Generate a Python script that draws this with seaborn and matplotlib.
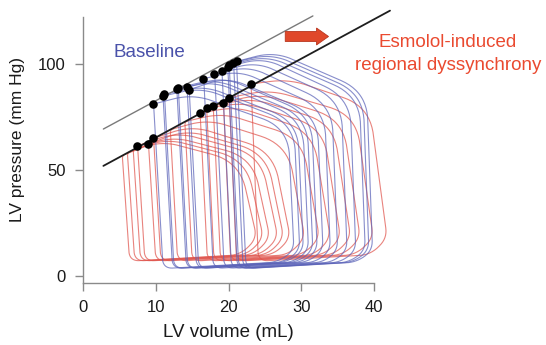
import numpy as np
import pandas as pd
import matplotlib
matplotlib.use("Agg")
import matplotlib.pyplot as plt
from matplotlib.patches import FancyArrow
import seaborn as sns

# ---- Baseline pressure-volume loops (one entry per beat) ----
base_es_vol = [9.7, 11.0, 11.2, 12.9, 13.1, 14.3, 14.6, 16.6, 18.1, 19.1, 19.9, 20.1, 20.7, 21.1]
base_es_pres = [81.2, 85.0, 85.8, 88.2, 88.9, 89.1, 87.9, 93.2, 95.4, 97.0, 98.9, 99.7, 100.8, 101.3]
base_ed_vol = [29.0, 29.8, 30.3, 31.0, 31.6, 32.2, 33.0, 34.0, 35.0, 36.3, 37.5, 38.8, 39.3, 39.8]
base_corner_pres = [70, 72, 73, 74, 75, 76, 76, 79, 81, 83, 84, 85, 86, 87]
base_peak_pres = [86, 89, 90, 92, 93, 94, 94, 97, 99, 101, 103, 104, 105, 106]
base_min_pres = 3.5
base_ed_pres = 12.0

# ---- Esmolol-induced dyssynchrony loops ----
esm_es_vol = [5.4, 6.1, 6.9, 7.5, 9.0, 9.7, 12.0, 14.0, 16.1, 17.0, 17.9, 19.3, 20.1, 23.1]
esm_es_pres = [56.9, 58.2, 59.6, 61.5, 62.4, 65.0, 69.1, 72.9, 76.9, 79.2, 80.3, 81.9, 84.2, 90.7]
esm_ed_vol = [23.9, 24.8, 25.7, 26.8, 27.6, 28.5, 30.5, 32.5, 34.0, 35.4, 36.8, 38.1, 39.9, 41.8]
esm_corner_pres = [54, 55, 56, 57, 58, 59, 62, 65, 68, 70, 72, 74, 76, 80]
esm_peak_pres = [64, 65, 66, 68, 69, 71, 74, 77, 80, 82, 84, 86, 88, 93]
esm_min_pres = 7.0
esm_ed_pres = 18.0

# ---- End-systolic points marked on each ESPVR ----
base_dot_vol = [9.67, 10.96, 11.18, 12.89, 13.11, 14.26, 14.62, 16.55, 18.06, 19.08, 19.90, 20.12, 20.67, 21.14]
base_dot_pres = [81.2, 85.0, 85.8, 88.2, 88.9, 89.1, 87.9, 93.2, 95.4, 97.0, 98.9, 99.7, 100.8, 101.3]
esm_dot_vol = [7.47, 8.98, 9.67, 16.09, 17.02, 17.92, 19.30, 20.12, 23.07]
esm_dot_pres = [61.5, 62.4, 65.0, 76.9, 79.2, 80.3, 81.9, 84.2, 90.7]

# ---- ESPVR lines (end points) ----
base_espvr_vol = [2.8, 31.6]
base_espvr_pres = [69.4, 122.8]
esm_espvr_vol = [2.8, 42.2]
esm_espvr_pres = [52.0, 125.3]

# screen scale (px per mL, px per mm Hg) so corner radii are even on screen
SX, SY = 7.27, 2.117


def rounded_polygon(xs, ys, radii, n_arc=24, n_edge=20):
    """Closed polygon whose corners are replaced by quadratic Bezier arcs."""
    pts = np.column_stack([np.asarray(xs) * SX, np.asarray(ys) * SY])
    n = len(pts)
    ends = []
    for i in range(n):
        a, b, c = pts[i - 1], pts[i], pts[(i + 1) % n]
        ab, bc = a - b, c - b
        lab, lbc = np.hypot(*ab), np.hypot(*bc)
        r = min(radii[i], 0.5 * lab, 0.5 * lbc)
        ends.append((b + ab * r / lab, b, b + bc * r / lbc))
    out = []
    for i in range(n):
        p0, ctrl, p2 = ends[i]
        t = np.linspace(0, 1, n_arc)[:, None]
        out.append((1 - t) ** 2 * p0 + 2 * (1 - t) * t * ctrl + t ** 2 * p2)
        nxt = ends[(i + 1) % n][0]
        s = np.linspace(0, 1, n_edge)[1:-1, None]
        out.append(p2 + (nxt - p2) * s)
    out = np.vstack(out + [out[0][:1]])
    return out[:, 0] / SX, out[:, 1] / SY


def pv_loop(esv, esp, edv, corner, pk, pmin, edp, slant, drift):
    """ES point -> relaxation -> filling -> contraction -> ejection back to ES."""
    width = edv - esv
    xs = [esv, esv + drift, edv - 0.12 * width, edv, edv - slant, esv + 0.28 * width]
    ys = [esp, pmin, pmin + 3.0, edp, corner, pk]
    radii = [3, 10, 40, 10, 28, 60]
    return rounded_polygon(xs, ys, radii)


rows = []
groups = [
    ("Esmolol", esm_es_vol, esm_es_pres, esm_ed_vol, esm_corner_pres, esm_peak_pres,
     esm_min_pres, esm_ed_pres, 2.4, 1.0),
    ("Baseline", base_es_vol, base_es_pres, base_ed_vol, base_corner_pres, base_peak_pres,
     base_min_pres, base_ed_pres, 0.8, 1.3),
]
for name, esv_l, esp_l, edv_l, cor_l, pk_l, pmin, edp, slant, drift in groups:
    for i, (esv, esp, edv, cor, pk) in enumerate(zip(esv_l, esp_l, edv_l, cor_l, pk_l)):
        v, p = pv_loop(esv, esp, edv, cor, pk, pmin, edp, slant, drift)
        rows.append(pd.DataFrame({"group": name, "loop": f"{name}{i}",
                                  "volume": v, "pressure": p}))
df = pd.concat(rows, ignore_index=True)

sns.set_theme(style="ticks")
plt.rcParams["font.family"] = ["Liberation Sans", "DejaVu Sans"]

fig = plt.figure(figsize=(5.46, 3.45), dpi=100)
ax = fig.add_axes([83 / 546, 62 / 345, 291 / 546, 266 / 345])

sns.lineplot(data=df, x="volume", y="pressure", hue="group", units="loop",
             estimator=None, sort=False, legend=False, ax=ax,
             palette={"Esmolol": "#e0544c", "Baseline": "#5a62b8"},
             hue_order=["Esmolol", "Baseline"], lw=0.8, alpha=0.72)
for ln in ax.lines:
    ln.set_clip_on(False)

ax.plot(base_espvr_vol, base_espvr_pres, color="#7a7a7a", lw=1.0, clip_on=False, zorder=4)
ax.plot(esm_espvr_vol, esm_espvr_pres, color="#1e1e1e", lw=1.3, clip_on=False, zorder=4)

sns.scatterplot(x=base_dot_vol, y=base_dot_pres, color="black", s=38, linewidth=0,
                zorder=5, ax=ax, clip_on=False)
sns.scatterplot(x=esm_dot_vol, y=esm_dot_pres, color="black", s=38, linewidth=0,
                zorder=5, ax=ax, clip_on=False)

ax.set_xlim(0, 40)
ax.set_ylim(-3.3, 122.3)
ax.set_xticks([0, 10, 20, 30, 40])
ax.set_yticks([0, 50, 100])
sns.despine(ax=ax)
for sp in ("left", "bottom"):
    ax.spines[sp].set_color("#8a8a8a")
    ax.spines[sp].set_linewidth(1.0)
ax.tick_params(axis="both", colors="#8a8a8a", length=6, width=1.0, pad=6.5,
               labelsize=12, labelcolor="#1a1a1a")

ax.set_xlabel("LV volume (mL)", fontsize=13.5, color="#1a1a1a")
ax.set_ylabel("LV pressure (mm Hg)", fontsize=12.5, color="#1a1a1a")
ax.xaxis.set_label_coords(0.498, -0.155)
ax.yaxis.set_label_coords(-0.198, 0.54)

ax.text(4.13, 103.6, "Baseline", color="#4a52aa", fontsize=13.5, ha="left", va="baseline")
ax.text(50.1, 108.2, "Esmolol-induced", color="#ea4a30", fontsize=13.5,
        ha="center", va="baseline", clip_on=False)
ax.text(50.2, 97.3, "regional dyssynchrony", color="#ea4a30", fontsize=13.5,
        ha="center", va="baseline", clip_on=False)

arrow = FancyArrow(27.8, 113.1, 4.3, 0, width=4.7, head_width=8.0, head_length=1.65,
                   length_includes_head=False, fc="#e0482a", ec="#b8361e", lw=0.6,
                   zorder=6, clip_on=False)
ax.add_patch(arrow)

fig.savefig("out.png", dpi=100)
